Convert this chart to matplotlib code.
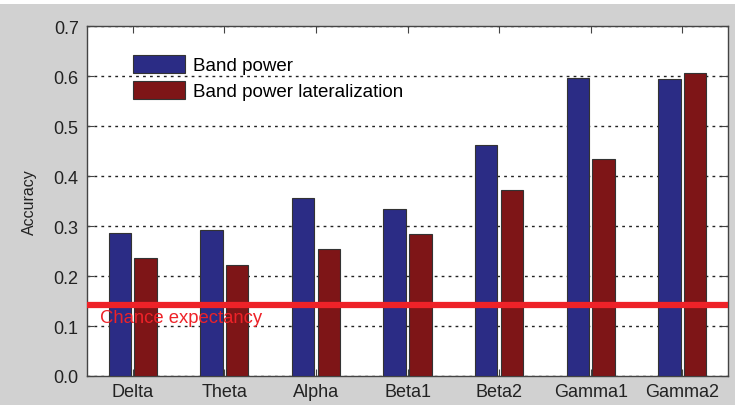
import numpy as np
import matplotlib.pyplot as plt
from matplotlib.patches import Rectangle

plt.rcParams['font.family'] = ['Liberation Sans', 'DejaVu Sans']

# frequency bands and classification accuracies
bands = ["Delta", "Theta", "Alpha", "Beta1", "Beta2", "Gamma1", "Gamma2"]
band_power = [0.286, 0.293, 0.357, 0.335, 0.463, 0.597, 0.594]
band_power_lat = [0.237, 0.222, 0.255, 0.284, 0.372, 0.435, 0.607]
chance = 1 / 7

fig = plt.figure(figsize=(7.35, 4.06), dpi=100, facecolor="white")
# gray panel behind the axes, thin white strip on top
fig.patches.append(Rectangle((0, 0), 1, 1 - 5 / 406, transform=fig.transFigure,
                             facecolor="#d1d1d1", edgecolor="none", zorder=-1))

ax = fig.add_axes([87 / 735, 1 - 377 / 406, (728 - 87) / 735, (377 - 27) / 406])
ax.set_facecolor("white")

x = np.arange(len(bands))
w = 0.245
ax.bar(x - 0.14, band_power, w, color="#2b2c85", edgecolor="#333333",
       linewidth=0.8, label="Band power", zorder=3)
ax.bar(x + 0.14, band_power_lat, w, color="#7e1517", edgecolor="#333333",
       linewidth=0.8, label="Band power lateralization", zorder=3)

ax.axhline(chance, color="#ee2228", linewidth=4.5, zorder=4)
ax.text(-0.36, 0.117, "Chance expectancy", color="#ee2228", fontsize=13.3,
        va="center", ha="left", zorder=5)

ax.set_xlim(-0.5, 6.5)
ax.set_ylim(0, 0.7)
ax.set_yticks(np.arange(0, 0.71, 0.1))
ax.set_yticklabels([f"{v:.1f}" for v in np.arange(0, 0.71, 0.1)])
ax.set_xticks(x)
ax.set_xticklabels(bands)
ax.yaxis.grid(True, linestyle=(0, (2, 3)), color="#222222", linewidth=1.0)
ax.set_axisbelow(True)

ax.tick_params(direction="in", top=True, right=True, length=5, labelsize=13,
               color="#444444", labelcolor="#222222")
ax.tick_params(axis="x", pad=5)
ax.tick_params(axis="y", pad=6)
for s in ax.spines.values():
    s.set_color("#444444")
    s.set_linewidth(1.0)

ax.set_ylabel("Accuracy", fontsize=11.5, color="#222222", labelpad=12)

ax.legend(loc="upper left", bbox_to_anchor=(0.045, 0.965), frameon=False,
          fontsize=13.5, handlelength=2.8, handleheight=1.07, labelspacing=0.35,
          handletextpad=0.43)

fig.savefig("out.png", dpi=100, facecolor=fig.get_facecolor())
